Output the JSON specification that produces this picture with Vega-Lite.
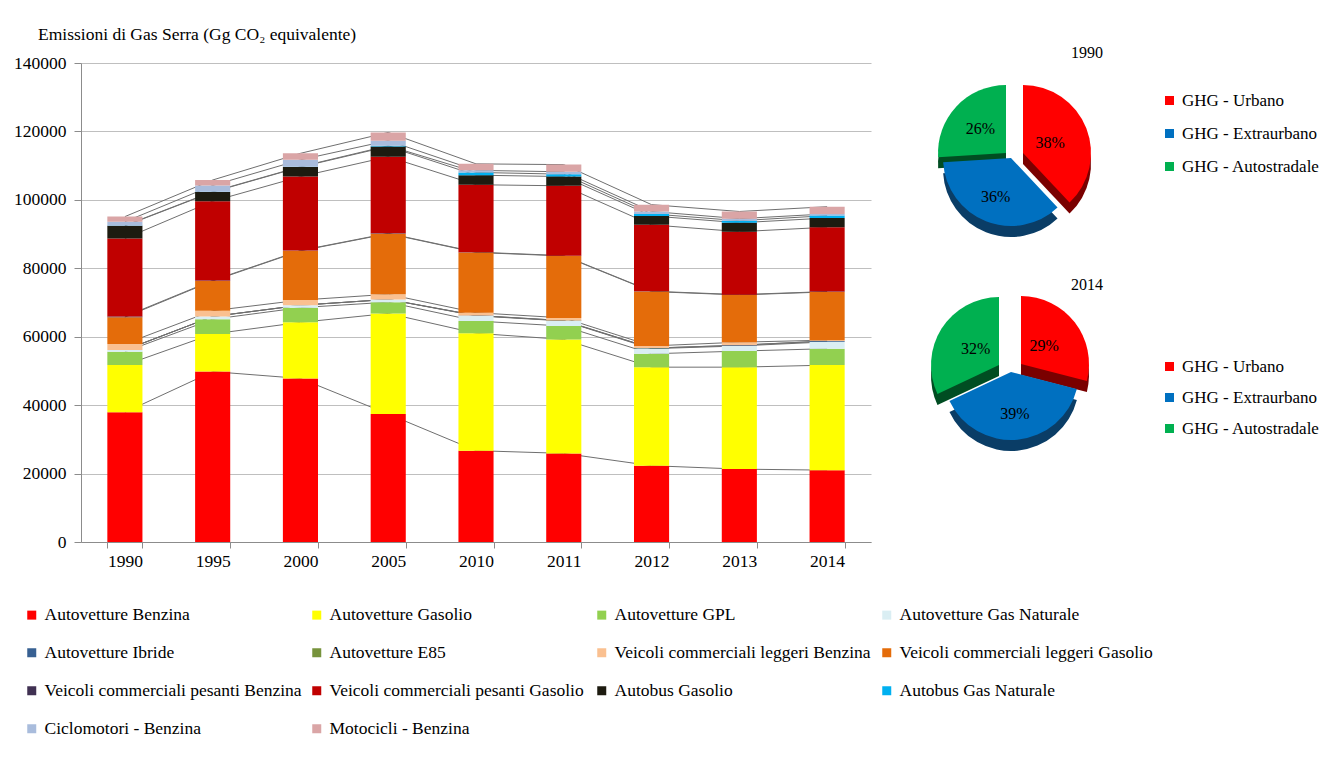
{
 "$schema": "https://vega.github.io/schema/vega-lite/v6.json",
 "padding": {"left": 13, "top": 25, "right": 5, "bottom": 5},
 "background": "white",
 "bounds": "flush",
 "spacing": 40,
 "resolve": {"scale": {"color": "independent"}, "legend": {"color": "independent"}},
 "config": {
  "font": "Liberation Serif, Times New Roman, DejaVu Serif, serif",
  "view": {"stroke": null},
  "axis": {"labelFont": "Liberation Serif, Times New Roman, DejaVu Serif, serif", "labelColor": "#000", "domainColor": "#8C8C8C", "tickColor": "#8C8C8C", "gridColor": "#BFBFBF", "labelFontSize": 17.5},
  "legend": {"labelFont": "Liberation Serif, Times New Roman, DejaVu Serif, serif", "labelColor": "#000", "labelFontSize": 17.5},
  "title": {"font": "Liberation Serif, Times New Roman, DejaVu Serif, serif", "fontWeight": "normal", "color": "#000", "fontSize": 17.5},
  "text": {"font": "Liberation Serif, Times New Roman, DejaVu Serif, serif"}
 },
 "datasets": {
  "emissioni": [
   {"anno":"1990","k":1,"serie":"Autovetture Benzina","valore":37900},
   {"anno":"1990","k":2,"serie":"Autovetture Gasolio","valore":13800},
   {"anno":"1990","k":3,"serie":"Autovetture GPL","valore":3900},
   {"anno":"1990","k":4,"serie":"Autovetture Gas Naturale","valore":500},
   {"anno":"1990","k":5,"serie":"Autovetture Ibride","valore":0},
   {"anno":"1990","k":6,"serie":"Autovetture E85","valore":0},
   {"anno":"1990","k":7,"serie":"Veicoli commerciali leggeri Benzina","valore":1800},
   {"anno":"1990","k":8,"serie":"Veicoli commerciali leggeri Gasolio","valore":7800},
   {"anno":"1990","k":9,"serie":"Veicoli commerciali pesanti Benzina","valore":200},
   {"anno":"1990","k":10,"serie":"Veicoli commerciali pesanti Gasolio","valore":22800},
   {"anno":"1990","k":11,"serie":"Autobus Gasolio","valore":3700},
   {"anno":"1990","k":12,"serie":"Autobus Gas Naturale","valore":100},
   {"anno":"1990","k":13,"serie":"Ciclomotori - Benzina","valore":1100},
   {"anno":"1990","k":14,"serie":"Motocicli - Benzina","valore":1500},
   {"anno":"1995","k":1,"serie":"Autovetture Benzina","valore":49800},
   {"anno":"1995","k":2,"serie":"Autovetture Gasolio","valore":11000},
   {"anno":"1995","k":3,"serie":"Autovetture GPL","valore":4300},
   {"anno":"1995","k":4,"serie":"Autovetture Gas Naturale","valore":800},
   {"anno":"1995","k":5,"serie":"Autovetture Ibride","valore":0},
   {"anno":"1995","k":6,"serie":"Autovetture E85","valore":0},
   {"anno":"1995","k":7,"serie":"Veicoli commerciali leggeri Benzina","valore":1700},
   {"anno":"1995","k":8,"serie":"Veicoli commerciali leggeri Gasolio","valore":8700},
   {"anno":"1995","k":9,"serie":"Veicoli commerciali pesanti Benzina","valore":150},
   {"anno":"1995","k":10,"serie":"Veicoli commerciali pesanti Gasolio","valore":23150},
   {"anno":"1995","k":11,"serie":"Autobus Gasolio","valore":2700},
   {"anno":"1995","k":12,"serie":"Autobus Gas Naturale","valore":100},
   {"anno":"1995","k":13,"serie":"Ciclomotori - Benzina","valore":1800},
   {"anno":"1995","k":14,"serie":"Motocicli - Benzina","valore":1600},
   {"anno":"2000","k":1,"serie":"Autovetture Benzina","valore":47800},
   {"anno":"2000","k":2,"serie":"Autovetture Gasolio","valore":16400},
   {"anno":"2000","k":3,"serie":"Autovetture GPL","valore":4300},
   {"anno":"2000","k":4,"serie":"Autovetture Gas Naturale","valore":700},
   {"anno":"2000","k":5,"serie":"Autovetture Ibride","valore":0},
   {"anno":"2000","k":6,"serie":"Autovetture E85","valore":0},
   {"anno":"2000","k":7,"serie":"Veicoli commerciali leggeri Benzina","valore":1500},
   {"anno":"2000","k":8,"serie":"Veicoli commerciali leggeri Gasolio","valore":14400},
   {"anno":"2000","k":9,"serie":"Veicoli commerciali pesanti Benzina","valore":100},
   {"anno":"2000","k":10,"serie":"Veicoli commerciali pesanti Gasolio","valore":21600},
   {"anno":"2000","k":11,"serie":"Autobus Gasolio","valore":2800},
   {"anno":"2000","k":12,"serie":"Autobus Gas Naturale","valore":100},
   {"anno":"2000","k":13,"serie":"Ciclomotori - Benzina","valore":2000},
   {"anno":"2000","k":14,"serie":"Motocicli - Benzina","valore":1900},
   {"anno":"2005","k":1,"serie":"Autovetture Benzina","valore":37400},
   {"anno":"2005","k":2,"serie":"Autovetture Gasolio","valore":29400},
   {"anno":"2005","k":3,"serie":"Autovetture GPL","valore":3300},
   {"anno":"2005","k":4,"serie":"Autovetture Gas Naturale","valore":800},
   {"anno":"2005","k":5,"serie":"Autovetture Ibride","valore":10},
   {"anno":"2005","k":6,"serie":"Autovetture E85","valore":0},
   {"anno":"2005","k":7,"serie":"Veicoli commerciali leggeri Benzina","valore":1500},
   {"anno":"2005","k":8,"serie":"Veicoli commerciali leggeri Gasolio","valore":17700},
   {"anno":"2005","k":9,"serie":"Veicoli commerciali pesanti Benzina","valore":100},
   {"anno":"2005","k":10,"serie":"Veicoli commerciali pesanti Gasolio","valore":22400},
   {"anno":"2005","k":11,"serie":"Autobus Gasolio","valore":3000},
   {"anno":"2005","k":12,"serie":"Autobus Gas Naturale","valore":200},
   {"anno":"2005","k":13,"serie":"Ciclomotori - Benzina","valore":1500},
   {"anno":"2005","k":14,"serie":"Motocicli - Benzina","valore":2400},
   {"anno":"2010","k":1,"serie":"Autovetture Benzina","valore":26700},
   {"anno":"2010","k":2,"serie":"Autovetture Gasolio","valore":34300},
   {"anno":"2010","k":3,"serie":"Autovetture GPL","valore":3600},
   {"anno":"2010","k":4,"serie":"Autovetture Gas Naturale","valore":1500},
   {"anno":"2010","k":5,"serie":"Autovetture Ibride","valore":100},
   {"anno":"2010","k":6,"serie":"Autovetture E85","valore":20},
   {"anno":"2010","k":7,"serie":"Veicoli commerciali leggeri Benzina","valore":800},
   {"anno":"2010","k":8,"serie":"Veicoli commerciali leggeri Gasolio","valore":17600},
   {"anno":"2010","k":9,"serie":"Veicoli commerciali pesanti Benzina","valore":100},
   {"anno":"2010","k":10,"serie":"Veicoli commerciali pesanti Gasolio","valore":19700},
   {"anno":"2010","k":11,"serie":"Autobus Gasolio","valore":2800},
   {"anno":"2010","k":12,"serie":"Autobus Gas Naturale","valore":800},
   {"anno":"2010","k":13,"serie":"Ciclomotori - Benzina","valore":600},
   {"anno":"2010","k":14,"serie":"Motocicli - Benzina","valore":1900},
   {"anno":"2011","k":1,"serie":"Autovetture Benzina","valore":25900},
   {"anno":"2011","k":2,"serie":"Autovetture Gasolio","valore":33300},
   {"anno":"2011","k":3,"serie":"Autovetture GPL","valore":3900},
   {"anno":"2011","k":4,"serie":"Autovetture Gas Naturale","valore":1500},
   {"anno":"2011","k":5,"serie":"Autovetture Ibride","valore":100},
   {"anno":"2011","k":6,"serie":"Autovetture E85","valore":20},
   {"anno":"2011","k":7,"serie":"Veicoli commerciali leggeri Benzina","valore":780},
   {"anno":"2011","k":8,"serie":"Veicoli commerciali leggeri Gasolio","valore":18100},
   {"anno":"2011","k":9,"serie":"Veicoli commerciali pesanti Benzina","valore":100},
   {"anno":"2011","k":10,"serie":"Veicoli commerciali pesanti Gasolio","valore":20400},
   {"anno":"2011","k":11,"serie":"Autobus Gasolio","valore":2700},
   {"anno":"2011","k":12,"serie":"Autobus Gas Naturale","valore":700},
   {"anno":"2011","k":13,"serie":"Ciclomotori - Benzina","valore":700},
   {"anno":"2011","k":14,"serie":"Motocicli - Benzina","valore":2100},
   {"anno":"2012","k":1,"serie":"Autovetture Benzina","valore":22300},
   {"anno":"2012","k":2,"serie":"Autovetture Gasolio","valore":28800},
   {"anno":"2012","k":3,"serie":"Autovetture GPL","valore":3900},
   {"anno":"2012","k":4,"serie":"Autovetture Gas Naturale","valore":1500},
   {"anno":"2012","k":5,"serie":"Autovetture Ibride","valore":150},
   {"anno":"2012","k":6,"serie":"Autovetture E85","valore":20},
   {"anno":"2012","k":7,"serie":"Veicoli commerciali leggeri Benzina","valore":630},
   {"anno":"2012","k":8,"serie":"Veicoli commerciali leggeri Gasolio","valore":15900},
   {"anno":"2012","k":9,"serie":"Veicoli commerciali pesanti Benzina","valore":100},
   {"anno":"2012","k":10,"serie":"Veicoli commerciali pesanti Gasolio","valore":19400},
   {"anno":"2012","k":11,"serie":"Autobus Gasolio","valore":2600},
   {"anno":"2012","k":12,"serie":"Autobus Gas Naturale","valore":600},
   {"anno":"2012","k":13,"serie":"Ciclomotori - Benzina","valore":700},
   {"anno":"2012","k":14,"serie":"Motocicli - Benzina","valore":2000},
   {"anno":"2013","k":1,"serie":"Autovetture Benzina","valore":21300},
   {"anno":"2013","k":2,"serie":"Autovetture Gasolio","valore":29800},
   {"anno":"2013","k":3,"serie":"Autovetture GPL","valore":4700},
   {"anno":"2013","k":4,"serie":"Autovetture Gas Naturale","valore":1500},
   {"anno":"2013","k":5,"serie":"Autovetture Ibride","valore":200},
   {"anno":"2013","k":6,"serie":"Autovetture E85","valore":20},
   {"anno":"2013","k":7,"serie":"Veicoli commerciali leggeri Benzina","valore":880},
   {"anno":"2013","k":8,"serie":"Veicoli commerciali leggeri Gasolio","valore":13800},
   {"anno":"2013","k":9,"serie":"Veicoli commerciali pesanti Benzina","valore":100},
   {"anno":"2013","k":10,"serie":"Veicoli commerciali pesanti Gasolio","valore":18400},
   {"anno":"2013","k":11,"serie":"Autobus Gasolio","valore":2600},
   {"anno":"2013","k":12,"serie":"Autobus Gas Naturale","valore":600},
   {"anno":"2013","k":13,"serie":"Ciclomotori - Benzina","valore":600},
   {"anno":"2013","k":14,"serie":"Motocicli - Benzina","valore":2100},
   {"anno":"2014","k":1,"serie":"Autovetture Benzina","valore":21000},
   {"anno":"2014","k":2,"serie":"Autovetture Gasolio","valore":30700},
   {"anno":"2014","k":3,"serie":"Autovetture GPL","valore":4800},
   {"anno":"2014","k":4,"serie":"Autovetture Gas Naturale","valore":2000},
   {"anno":"2014","k":5,"serie":"Autovetture Ibride","valore":250},
   {"anno":"2014","k":6,"serie":"Autovetture E85","valore":20},
   {"anno":"2014","k":7,"serie":"Veicoli commerciali leggeri Benzina","valore":230},
   {"anno":"2014","k":8,"serie":"Veicoli commerciali leggeri Gasolio","valore":14100},
   {"anno":"2014","k":9,"serie":"Veicoli commerciali pesanti Benzina","valore":100},
   {"anno":"2014","k":10,"serie":"Veicoli commerciali pesanti Gasolio","valore":18800},
   {"anno":"2014","k":11,"serie":"Autobus Gasolio","valore":2700},
   {"anno":"2014","k":12,"serie":"Autobus Gas Naturale","valore":700},
   {"anno":"2014","k":13,"serie":"Ciclomotori - Benzina","valore":500},
   {"anno":"2014","k":14,"serie":"Motocicli - Benzina","valore":2100}
  ],
  "pie1990": [
   {"zona":"GHG - Urbano","k":1,"quota":0.38},
   {"zona":"GHG - Extraurbano","k":2,"quota":0.36},
   {"zona":"GHG - Autostradale","k":3,"quota":0.26}
  ],
  "pie2014": [
   {"zona":"GHG - Urbano","k":1,"quota":0.29},
   {"zona":"GHG - Extraurbano","k":2,"quota":0.39},
   {"zona":"GHG - Autostradale","k":3,"quota":0.32}
  ]
 },
 "hconcat": [
  {
   "width": 790,
   "height": 479,
   "title": {"text": "Emissioni di Gas Serra (Gg CO₂ equivalente)", "anchor": "start", "frame": "group", "dx": -43, "offset": -7, "baseline": "bottom"},
   "data": {"name": "emissioni"},
   "encoding": {
    "x": {"field": "anno", "type": "ordinal", "scale": {"paddingInner": 0.6, "paddingOuter": 0.3},
          "axis": {"title": null, "labelAngle": 0, "tickBand": "extent", "grid": false, "tickSize": 6, "labelPadding": 4}}
   },
   "layer": [
    {
     "transform": [{"stack": "valore", "groupby": ["anno"], "sort": [{"field": "k", "order": "ascending"}], "as": ["v0", "v1"]}],
     "mark": {"type": "line", "color": "#6F6F6F", "strokeWidth": 1},
     "encoding": {
      "y": {"field": "v1", "type": "quantitative", "scale": {"domain": [0, 140000]},
            "axis": {"title": null, "values": [0, 20000, 40000, 60000, 80000, 100000, 120000, 140000], "format": "d", "grid": true, "tickSize": 7, "labelPadding": 8}},
      "detail": {"field": "serie"}
     }
    },
    {
     "mark": {"type": "bar"},
     "encoding": {
      "y": {"field": "valore", "type": "quantitative", "stack": "zero", "scale": {"domain": [0, 140000]}, "axis": {"title": null}},
      "order": {"field": "k", "type": "quantitative"},
      "color": {
       "field": "serie", "type": "nominal",
       "scale": {
        "domain": ["Autovetture Benzina", "Autovetture Gasolio", "Autovetture GPL", "Autovetture Gas Naturale", "Autovetture Ibride", "Autovetture E85", "Veicoli commerciali leggeri Benzina", "Veicoli commerciali leggeri Gasolio", "Veicoli commerciali pesanti Benzina", "Veicoli commerciali pesanti Gasolio", "Autobus Gasolio", "Autobus Gas Naturale", "Ciclomotori - Benzina", "Motocicli - Benzina"],
        "range": ["#FF0000", "#FFFF00", "#92D050", "#DAEEF3", "#376092", "#77933C", "#FAC090", "#E46C0A", "#403152", "#C00000", "#1D1B10", "#00B0F0", "#A9BCDC", "#DAA5A6"]
       },
       "legend": {"title": null, "orient": "none", "legendX": -58, "legendY": 543, "direction": "horizontal", "columns": 4, "gridAlign": "all", "columnPadding": 6, "rowPadding": 19, "symbolType": "square", "symbolSize": 81, "symbolStrokeWidth": 0, "labelOffset": 4, "labelLimit": 400}
      }
     }
    }
   ]
  },
  {
   "bounds": "flush",
   "spacing": 42,
   "resolve": {"scale": {"color": "independent"}, "legend": {"color": "independent"}},
   "vconcat": [
    {
     "width": 200,
     "height": 190,
     "title": {"text": "1990", "dx": 76, "offset": -14, "baseline": "bottom", "fontSize": 16},
     "data": {"name": "pie1990"},
     "encoding": {
      "color": {"field": "zona", "type": "nominal",
       "scale": {"domain": ["GHG - Urbano", "GHG - Extraurbano", "GHG - Autostradale"], "range": ["#FF0000", "#0070C0", "#00B050"]},
       "legend": {"title": null, "orient": "none", "legendX": 250, "legendY": 29, "symbolType": "square", "symbolSize": 81, "symbolStrokeWidth": 0, "rowPadding": 15, "labelOffset": 4, "labelFontSize": 17}}
     },
     "layer": [
      {
       "transform": [{"stack": "quota", "groupby": [], "sort": [{"field": "k", "order": "ascending"}], "as": ["t0", "t1"]}, {"filter": "datum.zona === 'GHG - Urbano'"}],
       "mark": {"type": "arc", "outerRadius": 68, "xOffset": 12, "yOffset": 6},
       "encoding": {"theta": {"field": "t0", "type": "quantitative", "scale": {"domain": [0, 1]}}, "theta2": {"field": "t1"}, "color": {"value": "#7A0000"}}
      },
      {
       "transform": [{"stack": "quota", "groupby": [], "sort": [{"field": "k", "order": "ascending"}], "as": ["t0", "t1"]}, {"filter": "datum.zona === 'GHG - Extraurbano'"}],
       "mark": {"type": "arc", "outerRadius": 68, "yOffset": 11},
       "encoding": {"theta": {"field": "t0", "type": "quantitative", "scale": {"domain": [0, 1]}}, "theta2": {"field": "t1"}, "color": {"value": "#0A3D66"}}
      },
      {
       "transform": [{"stack": "quota", "groupby": [], "sort": [{"field": "k", "order": "ascending"}], "as": ["t0", "t1"]}, {"filter": "datum.zona === 'GHG - Autostradale'"}],
       "mark": {"type": "arc", "outerRadius": 68, "xOffset": -5, "yOffset": 6},
       "encoding": {"theta": {"field": "t0", "type": "quantitative", "scale": {"domain": [0, 1]}}, "theta2": {"field": "t1"}, "color": {"value": "#004D22"}}
      },
      {
       "transform": [{"stack": "quota", "groupby": [], "sort": [{"field": "k", "order": "ascending"}], "as": ["t0", "t1"]}, {"filter": "datum.zona === 'GHG - Urbano'"}],
       "mark": {"type": "arc", "outerRadius": 68, "xOffset": 12, "yOffset": -5},
       "encoding": {"theta": {"field": "t0", "type": "quantitative", "scale": {"domain": [0, 1]}}, "theta2": {"field": "t1"}}
      },
      {
       "transform": [{"stack": "quota", "groupby": [], "sort": [{"field": "k", "order": "ascending"}], "as": ["t0", "t1"]}, {"filter": "datum.zona === 'GHG - Extraurbano'"}],
       "mark": {"type": "arc", "outerRadius": 68},
       "encoding": {"theta": {"field": "t0", "type": "quantitative", "scale": {"domain": [0, 1]}}, "theta2": {"field": "t1"}}
      },
      {
       "transform": [{"stack": "quota", "groupby": [], "sort": [{"field": "k", "order": "ascending"}], "as": ["t0", "t1"]}, {"filter": "datum.zona === 'GHG - Autostradale'"}],
       "mark": {"type": "arc", "outerRadius": 68, "xOffset": -5, "yOffset": -5},
       "encoding": {"theta": {"field": "t0", "type": "quantitative", "scale": {"domain": [0, 1]}}, "theta2": {"field": "t1"}}
      },
      {
       "mark": {"type": "text", "radius": 42, "fontSize": 16},
       "encoding": {
        "theta": {"field": "quota", "type": "quantitative", "stack": true, "scale": {"domain": [0, 1]}},
        "order": {"field": "k", "type": "quantitative"},
        "text": {"field": "quota", "type": "quantitative", "format": ".0%"},
        "color": {"value": "#000000"}
       }
      }
     ]
    },
    {
     "width": 200,
     "height": 154,
     "title": {"text": "2014", "dx": 76, "offset": -14, "baseline": "bottom", "fontSize": 16},
     "data": {"name": "pie2014"},
     "encoding": {
      "color": {"field": "zona", "type": "nominal",
       "scale": {"domain": ["GHG - Urbano", "GHG - Extraurbano", "GHG - Autostradale"], "range": ["#FF0000", "#0070C0", "#00B050"]},
       "legend": {"title": null, "orient": "none", "legendX": 250, "legendY": 63, "symbolType": "square", "symbolSize": 81, "symbolStrokeWidth": 0, "rowPadding": 13, "labelOffset": 4, "labelFontSize": 17}}
     },
     "layer": [
      {
       "transform": [{"stack": "quota", "groupby": [], "sort": [{"field": "k", "order": "ascending"}], "as": ["t0", "t1"]}, {"filter": "datum.zona === 'GHG - Urbano'"}],
       "mark": {"type": "arc", "outerRadius": 68, "xOffset": 10, "yOffset": 3},
       "encoding": {"theta": {"field": "t0", "type": "quantitative", "scale": {"domain": [0, 1]}}, "theta2": {"field": "t1"}, "color": {"value": "#7A0000"}}
      },
      {
       "transform": [{"stack": "quota", "groupby": [], "sort": [{"field": "k", "order": "ascending"}], "as": ["t0", "t1"]}, {"filter": "datum.zona === 'GHG - Extraurbano'"}],
       "mark": {"type": "arc", "outerRadius": 68, "yOffset": 11},
       "encoding": {"theta": {"field": "t0", "type": "quantitative", "scale": {"domain": [0, 1]}}, "theta2": {"field": "t1"}, "color": {"value": "#0A3D66"}}
      },
      {
       "transform": [{"stack": "quota", "groupby": [], "sort": [{"field": "k", "order": "ascending"}], "as": ["t0", "t1"]}, {"filter": "datum.zona === 'GHG - Autostradale'"}],
       "mark": {"type": "arc", "outerRadius": 68, "xOffset": -12, "yOffset": 4},
       "encoding": {"theta": {"field": "t0", "type": "quantitative", "scale": {"domain": [0, 1]}}, "theta2": {"field": "t1"}, "color": {"value": "#004D22"}}
      },
      {
       "transform": [{"stack": "quota", "groupby": [], "sort": [{"field": "k", "order": "ascending"}], "as": ["t0", "t1"]}, {"filter": "datum.zona === 'GHG - Urbano'"}],
       "mark": {"type": "arc", "outerRadius": 68, "xOffset": 10, "yOffset": -8},
       "encoding": {"theta": {"field": "t0", "type": "quantitative", "scale": {"domain": [0, 1]}}, "theta2": {"field": "t1"}}
      },
      {
       "transform": [{"stack": "quota", "groupby": [], "sort": [{"field": "k", "order": "ascending"}], "as": ["t0", "t1"]}, {"filter": "datum.zona === 'GHG - Extraurbano'"}],
       "mark": {"type": "arc", "outerRadius": 68},
       "encoding": {"theta": {"field": "t0", "type": "quantitative", "scale": {"domain": [0, 1]}}, "theta2": {"field": "t1"}}
      },
      {
       "transform": [{"stack": "quota", "groupby": [], "sort": [{"field": "k", "order": "ascending"}], "as": ["t0", "t1"]}, {"filter": "datum.zona === 'GHG - Autostradale'"}],
       "mark": {"type": "arc", "outerRadius": 68, "xOffset": -12, "yOffset": -7},
       "encoding": {"theta": {"field": "t0", "type": "quantitative", "scale": {"domain": [0, 1]}}, "theta2": {"field": "t1"}}
      },
      {
       "mark": {"type": "text", "radius": 42, "fontSize": 16},
       "encoding": {
        "theta": {"field": "quota", "type": "quantitative", "stack": true, "scale": {"domain": [0, 1]}},
        "order": {"field": "k", "type": "quantitative"},
        "text": {"field": "quota", "type": "quantitative", "format": ".0%"},
        "color": {"value": "#000000"}
       }
      }
     ]
    }
   ]
  }
 ]
}
